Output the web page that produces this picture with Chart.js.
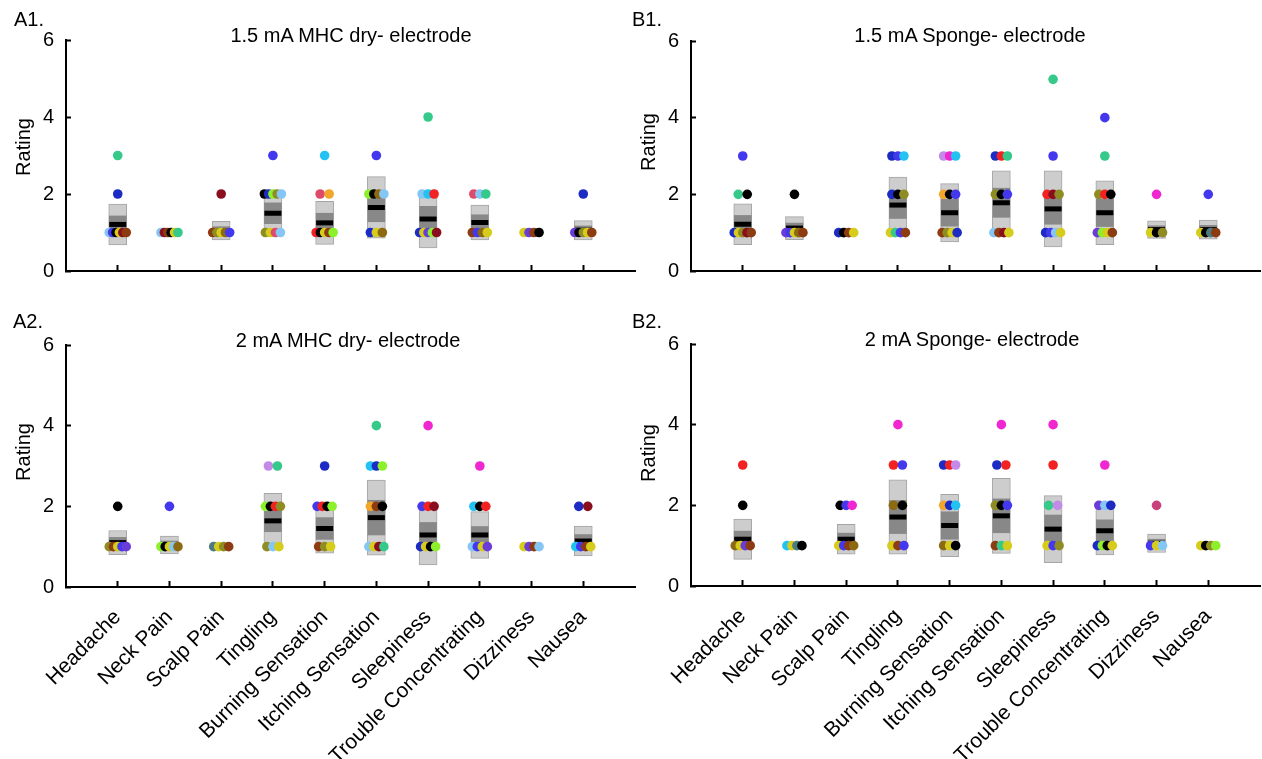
<!DOCTYPE html>
<html>
<head>
<meta charset="utf-8">
<script src="https://cdn.jsdelivr.net/npm/chart.js@4.4.1/dist/chart.umd.min.js"></script>
<style>
  body { margin: 0; background: #fff; }
  #wrap { position: relative; width: 1262px; height: 759px; overflow: hidden; font-family: 'Liberation Sans', Arial, sans-serif; color: #000; }
  canvas { position: absolute; }
  .txt { position: absolute; font-size: 20px; line-height: 1; white-space: nowrap; }
  .title { transform: translateX(-50%); }
  .ylab { transform: translate(-50%, -50%) rotate(-90deg); }
</style>
</head>
<body>
<div id="wrap">
  <canvas id="a1" width="636" height="300" style="left:0;top:0"></canvas>
  <canvas id="b1" width="632" height="300" style="left:630px;top:0"></canvas>
  <canvas id="a2" width="636" height="459" style="left:0;top:300px"></canvas>
  <canvas id="b2" width="632" height="459" style="left:630px;top:300px"></canvas>

  <div class="txt" style="left:14px;top:9px">A1.</div>
  <div class="txt title" style="left:351px;top:25px">1.5 mA MHC dry- electrode</div>
  <div class="txt ylab" style="left:23px;top:147px">Rating</div>

  <div class="txt" style="left:632px;top:9px">B1.</div>
  <div class="txt title" style="left:970px;top:25px">1.5 mA Sponge- electrode</div>
  <div class="txt ylab" style="left:648px;top:142px">Rating</div>

  <div class="txt" style="left:13px;top:311px">A2.</div>
  <div class="txt title" style="left:348px;top:330px">2 mA MHC dry- electrode</div>
  <div class="txt ylab" style="left:23px;top:452px">Rating</div>

  <div class="txt" style="left:632px;top:311px">B2.</div>
  <div class="txt title" style="left:972px;top:329px">2 mA Sponge- electrode</div>
  <div class="txt ylab" style="left:648px;top:453px">Rating</div>
</div>
<script>
const symptoms = ['Headache', 'Neck Pain', 'Scalp Pain', 'Tingling', 'Burning Sensation',
  'Itching Sensation', 'Sleepiness', 'Trouble Concentrating', 'Dizziness', 'Nausea'];
const yTicks = [0, 2, 4, 6];

const palette = {
  teal: '#35c98a', blue: '#4338ee', navy: '#1b2bc4', sky: '#86c6f4', cyan: '#22c3f3',
  black: '#000000', yellow: '#d6cc1c', olive: '#8e8c22', brown: '#8c3c10', maroon: '#8a0e1e',
  red: '#f22222', orange: '#f2a62a', rose: '#e04a6a', lime: '#8cf02a', lilac: '#c48ae8',
  magenta: '#f026d0', violet: '#6a3cd8', plum: '#c8407c', ochre: '#8c6a12', slate: '#4c7a80'
};

// mean, SD (light box) and 95% CI (dark box) for each symptom
const a1Mean = [1.21, 1.0, 1.05, 1.5, 1.25, 1.65, 1.35, 1.26, 1.0, 1.06];
const a1Sd = [0.53, 0, 0.24, 0.6, 0.56, 0.8, 0.75, 0.45, 0, 0.25];
const a1Ci = [0.22, 0, 0.1, 0.27, 0.25, 0.37, 0.33, 0.2, 0, 0.11];

const b1Mean = [1.22, 1.12, 1.0, 1.72, 1.52, 1.78, 1.62, 1.52, 1.08, 1.08];
const b1Sd = [0.53, 0.3, 0, 0.73, 0.76, 0.83, 0.99, 0.83, 0.23, 0.25];
const b1Ci = [0.23, 0.13, 0, 0.35, 0.35, 0.38, 0.4, 0.36, 0.1, 0.11];

const a2Mean = [1.1, 1.04, 1.0, 1.64, 1.45, 1.72, 1.29, 1.29, 1.0, 1.14];
const a2Sd = [0.3, 0.22, 0, 0.68, 0.61, 0.93, 0.74, 0.58, 0, 0.37];
const a2Ci = [0.13, 0.1, 0, 0.27, 0.27, 0.43, 0.31, 0.21, 0, 0.16];

const b2Mean = [1.16, 1.0, 1.16, 1.71, 1.5, 1.74, 1.41, 1.37, 1.06, 1.0];
const b2Sd = [0.5, 0, 0.37, 0.92, 0.77, 0.93, 0.83, 0.6, 0.23, 0];
const b2Ci = [0.2, 0, 0.15, 0.41, 0.34, 0.42, 0.35, 0.27, 0.1, 0];

// individual ratings: rating -> participant colours, left to right
const a1Dots = [
  {1: ['sky', 'blue', 'black', 'yellow', 'maroon', 'brown'], 2: ['navy'], 3: ['teal']},
  {1: ['sky', 'maroon', 'brown', 'black', 'yellow', 'teal']},
  {1: ['brown', 'olive', 'yellow', 'ochre', 'blue'], 2: ['maroon']},
  {1: ['olive', 'yellow', 'rose', 'sky'], 2: ['black', 'navy', 'lime', 'olive', 'sky'], 3: ['blue']},
  {1: ['red', 'black', 'yellow', 'brown', 'lime'], 2: ['rose', 'orange'], 3: ['cyan']},
  {1: ['navy', 'yellow', 'ochre'], 2: ['lime', 'black', 'ochre', 'sky'], 3: ['blue']},
  {1: ['navy', 'yellow', 'violet', 'lime', 'maroon'], 2: ['sky', 'cyan', 'red'], 4: ['teal']},
  {1: ['brown', 'blue', 'ochre', 'yellow'], 2: ['rose', 'sky', 'teal']},
  {1: ['yellow', 'violet', 'brown', 'black']},
  {1: ['violet', 'black', 'olive', 'yellow', 'brown'], 2: ['navy']}
];

const b1Dots = [
  {1: ['navy', 'yellow', 'olive', 'maroon', 'brown'], 2: ['teal', 'black'], 3: ['blue']},
  {1: ['violet', 'blue', 'yellow', 'ochre', 'brown'], 2: ['black']},
  {1: ['navy', 'black', 'brown', 'yellow']},
  {1: ['yellow', 'teal', 'blue', 'brown'], 2: ['navy', 'black', 'olive'], 3: ['navy', 'blue', 'cyan']},
  {1: ['brown', 'olive', 'yellow', 'navy'], 2: ['orange', 'black', 'blue'], 3: ['lilac', 'magenta', 'cyan']},
  {1: ['sky', 'brown', 'maroon', 'yellow'], 2: ['olive', 'black', 'blue'], 3: ['navy', 'red', 'teal']},
  {1: ['navy', 'blue', 'sky', 'yellow'], 2: ['red', 'maroon', 'olive'], 3: ['blue'], 5: ['teal']},
  {1: ['violet', 'lime', 'yellow', 'brown'], 2: ['olive', 'red', 'black'], 3: ['teal'], 4: ['blue']},
  {1: ['yellow', 'black', 'olive'], 2: ['magenta']},
  {1: ['yellow', 'black', 'slate', 'brown'], 2: ['blue']}
];

const a2Dots = [
  {1: ['olive', 'brown', 'yellow', 'blue', 'violet'], 2: ['black']},
  {1: ['lime', 'black', 'yellow', 'sky', 'ochre'], 2: ['blue']},
  {1: ['slate', 'yellow', 'olive', 'brown']},
  {1: ['olive', 'sky', 'yellow'], 2: ['lime', 'black', 'red', 'olive'], 3: ['lilac', 'teal']},
  {1: ['brown', 'olive', 'yellow'], 2: ['blue', 'red', 'black', 'lime'], 3: ['navy']},
  {1: ['sky', 'yellow', 'maroon', 'teal'], 2: ['orange', 'brown', 'black'], 3: ['cyan', 'navy', 'lime'], 4: ['teal']},
  {1: ['navy', 'yellow', 'black', 'lime'], 2: ['blue', 'red', 'maroon'], 4: ['magenta']},
  {1: ['sky', 'blue', 'yellow', 'violet'], 2: ['cyan', 'black', 'red'], 3: ['magenta']},
  {1: ['yellow', 'violet', 'brown', 'sky']},
  {1: ['cyan', 'blue', 'brown', 'yellow'], 2: ['navy', 'maroon']}
];

const b2Dots = [
  {1: ['ochre', 'yellow', 'violet', 'brown'], 2: ['black'], 3: ['red']},
  {1: ['cyan', 'yellow', 'slate', 'black']},
  {1: ['yellow', 'blue', 'brown', 'ochre'], 2: ['black', 'blue', 'magenta']},
  {1: ['yellow', 'brown', 'blue'], 2: ['ochre', 'black'], 3: ['red', 'blue'], 4: ['magenta']},
  {1: ['ochre', 'yellow', 'black'], 2: ['orange', 'navy', 'cyan'], 3: ['navy', 'red', 'lilac']},
  {1: ['brown', 'teal', 'yellow'], 2: ['olive', 'black', 'blue'], 3: ['navy', 'red'], 4: ['magenta']},
  {1: ['yellow', 'blue', 'olive'], 2: ['teal', 'lilac'], 3: ['red'], 4: ['magenta']},
  {1: ['navy', 'lime', 'black', 'yellow'], 2: ['violet', 'sky', 'navy'], 3: ['magenta']},
  {1: ['blue', 'yellow', 'sky'], 2: ['plum']},
  {1: ['yellow', 'black', 'olive', 'lime']}
];

const font = "'Liberation Sans', Arial, sans-serif";
Chart.defaults.font.family = font;
Chart.defaults.color = '#000';

const pxPerUnit = 51.7;

function dotPoints(dots) {
  const pts = [];
  const colors = [];
  dots.forEach((byRating, i) => {
    Object.keys(byRating).forEach(r => {
      const list = byRating[r];
      const m = list.length;
      const span = m > 1 ? Math.min(17, 6 + 3 * (m - 1)) : 0;
      list.forEach((c, k) => {
        const off = m > 1 ? -span / 2 + span * k / (m - 1) : 0;
        pts.push({x: i + 1 + off / pxPerUnit, y: Number(r)});
        colors.push(palette[c]);
      });
    });
  });
  return {pts, colors};
}

function makePanel(id, dots, mean, sd, ci, opt) {
  const d = dotPoints(dots);
  const idx = mean.map((m, i) => i).filter(i => sd[i] > 0);
  new Chart(document.getElementById(id), {
    type: 'scatter',
    data: {
      datasets: [{
        data: d.pts,
        pointBackgroundColor: d.colors,
        pointBorderWidth: 0,
        pointRadius: 4.8,
        order: 0
      }, {
        data: idx.map(i => ({x: i + 1, y: mean[i]})),
        pointStyle: 'line',
        pointRadius: 8.5,
        pointBorderWidth: 5,
        pointBorderColor: '#000',
        order: 1
      }, {
        type: 'bar',
        data: idx.map(i => ({x: i + 1, y: [mean[i] - ci[i], mean[i] + ci[i]]})),
        backgroundColor: '#888888',
        barThickness: 17,
        grouped: false,
        order: 2
      }, {
        type: 'bar',
        data: idx.map(i => ({x: i + 1, y: [mean[i] - sd[i], mean[i] + sd[i]]})),
        backgroundColor: '#cdcdcd',
        borderColor: '#a5a5a5',
        borderWidth: 1,
        borderSkipped: false,
        barThickness: 18,
        grouped: false,
        order: 3
      }]
    },
    options: {
      responsive: false,
      animation: false,
      events: [],
      layout: {autoPadding: false, padding: {top: opt.top, right: opt.right, left: 0, bottom: 0}},
      plugins: {legend: {display: false}, tooltip: {enabled: false}},
      scales: {
        x: {
          type: 'linear',
          min: 0,
          max: 11,
          offset: false,
          afterBuildTicks: s => { s.ticks = symptoms.map((n, i) => ({value: i + 1})); },
          afterFit: s => { s.height = opt.xHeight; },
          ticks: {
            display: opt.labels,
            autoSkip: false,
            minRotation: 45,
            maxRotation: 45,
            padding: 24,
            font: {size: 21},
            callback: v => symptoms[v - 1]
          },
          grid: {display: true, offset: false, drawOnChartArea: false, drawTicks: true, tickLength: -6, tickWidth: 2, tickColor: '#000'},
          border: {color: '#000', width: 2}
        },
        y: {
          min: 0,
          max: 6,
          beginAtZero: true,
          afterBuildTicks: s => { s.ticks = yTicks.map(v => ({value: v})); },
          afterFit: s => { s.width = opt.yWidth; },
          ticks: {padding: 17, font: {size: 20}},
          grid: {display: true, drawOnChartArea: false, drawTicks: true, tickLength: -5, tickWidth: 2, tickColor: '#000'},
          border: {color: '#000', width: 2}
        }
      }
    }
  });
}

makePanel('a1', a1Dots, a1Mean, a1Sd, a1Ci, {top: 40, right: 1, xHeight: 19, yWidth: 66, labels: false});
makePanel('b1', b1Dots, b1Mean, b1Sd, b1Ci, {top: 41, right: 2, xHeight: 17, yWidth: 61, labels: false});
makePanel('a2', a2Dots, a2Mean, a2Sd, a2Ci, {top: 45, right: 1, xHeight: 172, yWidth: 66, labels: true});
makePanel('b2', b2Dots, b2Mean, b2Sd, b2Ci, {top: 44, right: 2, xHeight: 173, yWidth: 61, labels: true});
</script>
</body>
</html>
